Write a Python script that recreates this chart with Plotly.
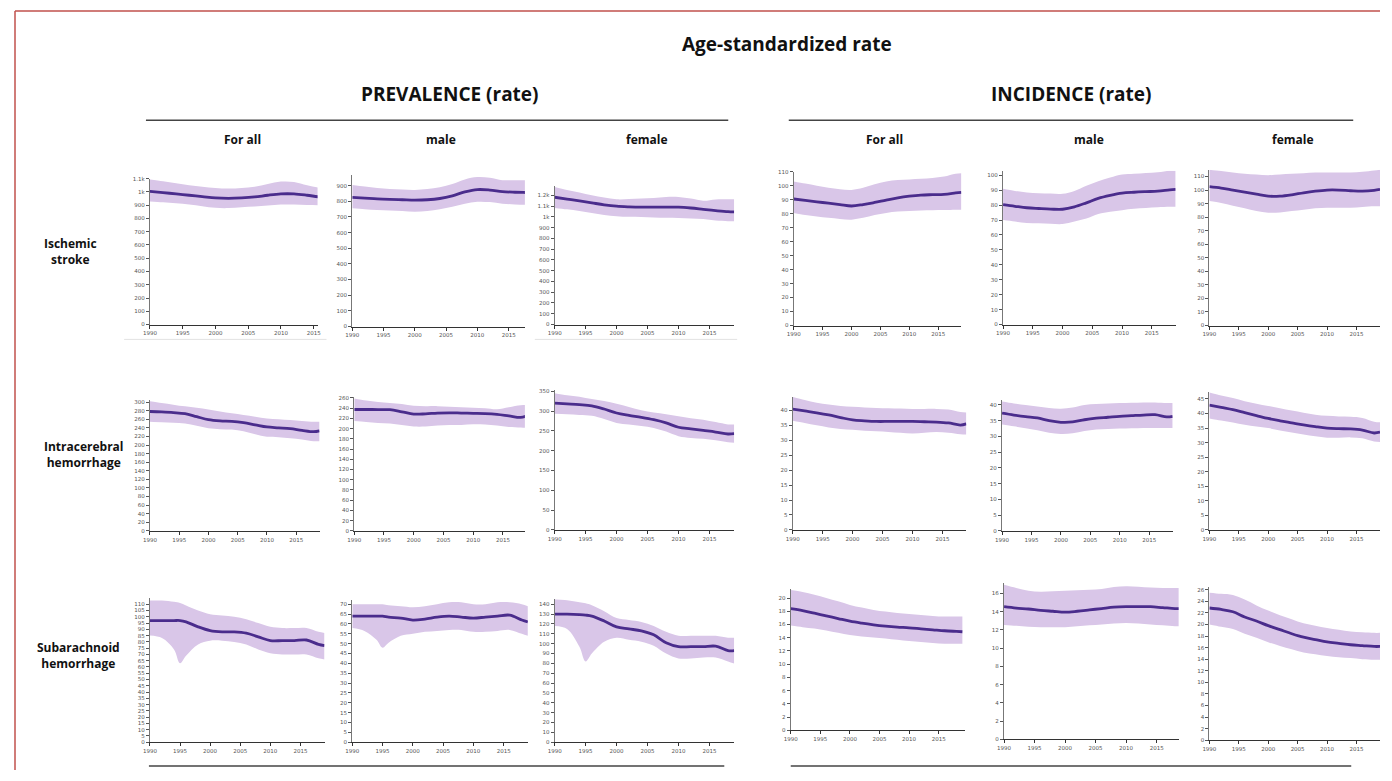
import plotly.graph_objects as go

# page shows the figure after an 8px body margin; size the figure to fit the window
OFF = 8
W, H = 1392 - 2 * OFF, 781 - 2 * OFF


def fx(px):
    return min(1.0, max(0.0, (px - OFF) / W))


def fy(py):
    return min(1.0, max(0.0, 1 - (py - OFF) / H))


years = [1990, 1992, 1994, 1996, 1998, 2000, 2002, 2004, 2006, 2008, 2010, 2012, 2014, 2016, 2018, 2019]
years_sah_prev = [1990, 1992, 1994, 1995, 1996, 1998, 2000, 2002, 2004, 2006, 2008, 2010, 2012, 2014, 2016, 2018, 2019]
year_ticks = [1990, 1995, 2000, 2005, 2010, 2015]

# ---------------- Ischemic stroke ----------------
isch_prev_all = [1005, 995, 985, 975, 965, 955, 952, 955, 962, 975, 985, 985, 975, 962, 958, 955]
isch_prev_all_hi = [1093, 1080, 1065, 1050, 1040, 1030, 1025, 1030, 1040, 1060, 1078, 1075, 1050, 1030, 1020, 1018]
isch_prev_all_lo = [928, 922, 915, 905, 892, 880, 878, 885, 890, 898, 905, 905, 902, 900, 898, 896]

isch_prev_male = [825, 820, 815, 812, 810, 808, 810, 818, 835, 860, 875, 872, 862, 858, 856, 855]
isch_prev_male_hi = [905, 895, 885, 878, 875, 873, 878, 890, 910, 940, 955, 950, 935, 935, 935, 935]
isch_prev_male_lo = [755, 750, 745, 742, 738, 734, 738, 750, 765, 785, 797, 795, 785, 780, 778, 775]

isch_prev_female = [1182, 1165, 1148, 1130, 1112, 1099, 1093, 1090, 1090, 1090, 1090, 1082, 1070, 1058, 1048, 1046]
isch_prev_female_hi = [1277, 1250, 1225, 1200, 1180, 1163, 1165, 1170, 1175, 1185, 1185, 1170, 1150, 1162, 1163, 1163]
isch_prev_female_lo = [1083, 1070, 1055, 1035, 1018, 1006, 1000, 998, 995, 992, 990, 985, 980, 965, 960, 960]

isch_inc_all = [90.5, 89.5, 88.5, 87.5, 86.5, 85.5, 86.5, 88, 89.7, 91.3, 92.5, 93.3, 93.6, 93.8, 94.8, 95.3]
isch_inc_all_hi = [103, 101.5, 100, 98.5, 97.5, 97, 98.5, 101, 103, 104, 104.5, 105, 105.5, 106.5, 108.5, 108.9]
isch_inc_all_lo = [80.4, 79, 78, 77, 76.2, 75.7, 77, 79, 80.5, 81.5, 82, 82.3, 82.5, 82.6, 82.8, 82.8]

isch_inc_male = [80.3, 79.2, 78.2, 77.7, 77.3, 77.2, 78.8, 81.5, 84.5, 86.5, 88, 88.6, 89, 89.3, 90.2, 90.5]
isch_inc_male_hi = [90.9, 89.5, 88.5, 88, 87.7, 87.6, 89.5, 93, 96, 98.5, 100.5, 101, 101.5, 102, 103, 103]
isch_inc_male_lo = [70, 69, 68, 67.8, 67.5, 67.3, 69, 71, 74, 75.5, 76.6, 77.5, 78, 78.5, 78.8, 78.8]

isch_inc_female = [102.5, 101.5, 100, 98.5, 97, 95.5, 95.5, 96.5, 98, 99.2, 100, 100, 99.5, 99.2, 99.8, 100.5]
isch_inc_female_hi = [115, 114, 113, 112, 111.5, 111, 111.5, 112, 112.5, 113, 113, 113, 113, 113.5, 114.5, 115]
isch_inc_female_lo = [91.9, 90.5, 88.5, 86.5, 84.5, 83.3, 83.5, 84.5, 85.5, 86.5, 87, 87, 87, 87.5, 88, 88]

# ---------------- Intracerebral hemorrhage ----------------
ich_prev_all = [278, 277, 275.5, 273, 266, 259, 256, 255, 252, 247, 242, 240, 238, 234, 231, 233]
ich_prev_all_hi = [302, 298, 294, 290, 287, 283, 278, 274, 270, 266, 262, 260, 258, 256, 254, 254]
ich_prev_all_lo = [254, 253, 252, 250, 245, 239, 237, 236, 232, 225, 219, 218, 216, 213, 209, 209]

ich_prev_male = [237.5, 237.5, 237.3, 237, 233, 228.5, 229, 230.5, 231, 230.5, 230, 229.5, 228, 225, 222, 225]
ich_prev_male_hi = [259, 255, 252, 250, 248, 244.6, 244, 244, 243, 242, 240.8, 240, 238, 242, 246, 246]
ich_prev_male_lo = [215, 213, 211, 210, 207, 204, 204, 206, 207, 207, 208.5, 208, 206, 203, 202, 202]

ich_prev_female = [320, 318, 316, 313, 305, 295, 289, 284, 278, 270, 259, 255, 251, 247, 242, 243]
ich_prev_female_hi = [345, 340, 336, 330, 325, 318, 310, 302, 296, 292, 287, 282, 278, 272, 266, 266]
ich_prev_female_lo = [293, 292, 290, 288, 280, 270, 266, 262, 257, 248, 236.5, 232, 230, 226, 221, 220]

ich_inc_all = [40.4, 39.8, 39.2, 38.5, 37.6, 36.8, 36.5, 36.3, 36.3, 36.3, 36.3, 36.2, 36.1, 35.8, 35.1, 35.5]
ich_inc_all_hi = [44.5, 43.5, 42.6, 42, 41.5, 41.2, 41, 40.8, 40.7, 40.6, 40.5, 40.5, 40.5, 40.3, 39.5, 39.3]
ich_inc_all_lo = [36.5, 35.8, 35, 34.3, 33.8, 33.5, 33.2, 33, 32.8, 32.5, 32.3, 32.5, 32.8, 32.5, 32, 31.9]

ich_inc_male = [37.4, 36.8, 36.3, 35.9, 35, 34.5, 34.6, 35.3, 35.8, 36.1, 36.4, 36.6, 36.8, 36.9, 36.2, 36.4]
ich_inc_male_hi = [41.1, 40.5, 40, 39.5, 39, 38.8, 39.2, 40, 40.3, 40.5, 40.6, 40.7, 40.8, 40.8, 40.6, 40.6]
ich_inc_male_lo = [33.8, 33.2, 32.6, 32, 31.2, 30.8, 31, 31.7, 32.2, 32.4, 32.5, 32.6, 32.7, 32.7, 32.7, 32.7]

ich_inc_female = [42.9, 42.1, 41.3, 40.3, 39.3, 38.3, 37.5, 36.8, 36.1, 35.5, 35, 34.8, 34.7, 34.3, 33.3, 33.6]
ich_inc_female_hi = [47.2, 46.2, 45.3, 44.2, 43.4, 42.6, 41.8, 41, 40.3, 39.6, 39.2, 39, 38.9, 38.5, 37.2, 37]
ich_inc_female_lo = [38.3, 37.6, 36.9, 36.1, 35.5, 35, 34.2, 33.5, 32.8, 32.2, 31.7, 31.7, 31.8, 31.5, 30.4, 30.2]

# ---------------- Subarachnoid hemorrhage (prevalence on years_sah_prev) ----------------
sah_prev_all = [97, 97, 97, 97, 96, 92, 89, 88, 88, 87, 84, 81, 81, 81, 81.5, 78, 77]
sah_prev_all_hi = [113, 113, 112, 111, 109, 105, 102, 101, 100, 98, 95, 92, 91, 91, 91, 88, 87]
sah_prev_all_lo = [85, 83, 74, 63, 69, 78, 81, 81, 80, 78, 74, 71, 70, 70, 70, 67, 66]

sah_prev_male = [64, 64, 64, 64, 63.5, 63, 62, 62.5, 63.5, 64, 63.5, 63, 63.5, 64, 64.5, 62, 61]
sah_prev_male_hi = [70, 70, 70, 70, 69.5, 69, 68.5, 69, 70, 71, 71, 70, 70, 71, 71, 70, 69]
sah_prev_male_lo = [58, 56.5, 52, 48, 50.5, 54, 55, 56, 56.5, 57, 57, 56, 56, 56.5, 57, 55, 54]

sah_prev_female = [130, 130, 129.5, 129, 128, 123, 117, 115, 113, 109, 101, 97, 97, 97, 97.5, 93, 93]
sah_prev_female_hi = [145, 144, 142, 141, 139, 133, 126, 124, 122, 118, 112, 108, 108, 108, 108, 106, 106]
sah_prev_female_lo = [118, 115, 97, 82, 90, 102, 106, 104, 102, 98, 90, 85, 85, 86, 86, 82, 80]

sah_inc_all = [18.4, 18.1, 17.7, 17.3, 16.9, 16.5, 16.2, 15.95, 15.75, 15.6, 15.5, 15.35, 15.2, 15.05, 14.95, 14.9]
sah_inc_all_hi = [21.2, 20.9, 20.5, 20.0, 19.5, 18.95, 18.55, 18.2, 17.95, 17.75, 17.6, 17.45, 17.3, 17.2, 17.2, 17.2]
sah_inc_all_lo = [15.85, 15.6, 15.4, 15.1, 14.75, 14.4, 14.2, 14.05, 13.9, 13.7, 13.5, 13.35, 13.2, 13.1, 13.1, 13.1]

sah_inc_male = [14.55, 14.4, 14.3, 14.15, 14.05, 13.95, 14.05, 14.2, 14.35, 14.5, 14.55, 14.55, 14.55, 14.45, 14.35, 14.35]
sah_inc_male_hi = [16.95, 16.6, 16.3, 16.2, 16.25, 16.3, 16.35, 16.4, 16.5, 16.7, 16.8, 16.75, 16.65, 16.6, 16.6, 16.6]
sah_inc_male_lo = [12.55, 12.45, 12.35, 12.3, 12.3, 12.3, 12.4, 12.5, 12.6, 12.7, 12.75, 12.7, 12.6, 12.5, 12.4, 12.4]

sah_inc_female = [22.85, 22.6, 22.2, 21.3, 20.6, 19.8, 19.1, 18.4, 17.8, 17.4, 17.0, 16.75, 16.5, 16.35, 16.2, 16.2]
sah_inc_female_hi = [25.5, 25.3, 25.1, 24.3, 23.3, 22.4, 21.6, 20.9, 20.2, 19.8, 19.4, 19.1, 18.8, 18.65, 18.55, 18.55]
sah_inc_female_lo = [20, 19.6, 19.2, 18.4, 17.7, 16.95, 16.3, 15.7, 15.15, 14.85, 14.55, 14.35, 14.2, 14.0, 13.9, 13.9]

# tick labels
ticks_isch_prev_all = [0, 100, 200, 300, 400, 500, 600, 700, 800, 900, 1000, 1100]
text_isch_prev_all = ["0", "100", "200", "300", "400", "500", "600", "700", "800", "900", "1k", "1.1k"]
ticks_isch_prev_male = [0, 100, 200, 300, 400, 500, 600, 700, 800, 900]
ticks_isch_prev_female = [0, 100, 200, 300, 400, 500, 600, 700, 800, 900, 1000, 1100, 1200]
text_isch_prev_female = ["0", "100", "200", "300", "400", "500", "600", "700", "800", "900", "1k", "1.1k", "1.2k"]
ticks_by10_100 = [0, 10, 20, 30, 40, 50, 60, 70, 80, 90, 100]
ticks_by10_110 = [0, 10, 20, 30, 40, 50, 60, 70, 80, 90, 100, 110]
ticks_by20_300 = list(range(0, 301, 20))
ticks_by20_260 = list(range(0, 261, 20))
ticks_by50_350 = list(range(0, 351, 50))
ticks_by5_40 = list(range(0, 41, 5))
ticks_by5_45 = list(range(0, 46, 5))
ticks_by5_110 = list(range(0, 111, 5))
ticks_by5_70 = list(range(0, 71, 5))
ticks_by10_140 = list(range(0, 141, 10))
ticks_by2_20 = list(range(0, 21, 2))
ticks_by2_16 = list(range(0, 17, 2))
ticks_by2_26 = list(range(0, 27, 2))

LINE = "#4a2c8c"
BAND = "#d9c6e8"

# panel geometry in window pixels: (years, mean, lo, hi, left, right, zero line, top, last year shown, ymax, ticks, ticktext)
panels = [
    (years, isch_prev_all, isch_prev_all_lo, isch_prev_all_hi, 144, 313, 324, 177, 2015.6, 1100, ticks_isch_prev_all, text_isch_prev_all),
    (years, isch_prev_male, isch_prev_male_lo, isch_prev_male_hi, 348, 522, 326, 173, 2017.6, 970, ticks_isch_prev_male, None),
    (years, isch_prev_female, isch_prev_female_lo, isch_prev_female_hi, 552, 733, 324, 184, 2019, 1290, ticks_isch_prev_female, text_isch_prev_female),
    (years, isch_inc_all, isch_inc_all_lo, isch_inc_all_hi, 793, 962, 325, 170, 2019, 110, ticks_by10_110, None),
    (years, isch_inc_male, isch_inc_male_lo, isch_inc_male_hi, 1004, 1178, 324, 169, 2019, 103, ticks_by10_100, None),
    (years, isch_inc_female, isch_inc_female_lo, isch_inc_female_hi, 1212, 1384, 325, 168, 2019, 115, ticks_by10_110, None),
    (years, ich_prev_all, ich_prev_all_lo, ich_prev_all_hi, 144, 315, 532, 400, 2019, 305, ticks_by20_300, None),
    (years, ich_prev_male, ich_prev_male_lo, ich_prev_male_hi, 350, 522, 532, 397, 2018.7, 262, ticks_by20_260, None),
    (years, ich_prev_female, ich_prev_female_lo, ich_prev_female_hi, 552, 733, 531, 390, 2019, 353, ticks_by50_350, None),
    (years, ich_inc_all, ich_inc_all_lo, ich_inc_all_hi, 792, 967, 531, 397, 2019, 44.5, ticks_by5_40, None),
    (years, ich_inc_male, ich_inc_male_lo, ich_inc_male_hi, 1003, 1175, 532, 400, 2019, 41.6, ticks_by5_40, None),
    (years, ich_inc_female, ich_inc_female_lo, ich_inc_female_hi, 1212, 1384, 531, 392, 2019, 47.4, ticks_by5_45, None),
    (years_sah_prev, sah_prev_all, sah_prev_all_lo, sah_prev_all_hi, 144, 320, 745, 600, 2019, 114.7, ticks_by5_110, None),
    (years_sah_prev, sah_prev_male, sah_prev_male_lo, sah_prev_male_hi, 348, 525, 745, 602, 2019, 72, ticks_by5_70, None),
    (years_sah_prev, sah_prev_female, sah_prev_female_lo, sah_prev_female_hi, 552, 733, 745, 601, 2019, 145, ticks_by10_140, None),
    (years, sah_inc_all, sah_inc_all_lo, sah_inc_all_hi, 790, 966, 733, 591, 2019.5, 21.3, ticks_by2_20, None),
    (years, sah_inc_male, sah_inc_male_lo, sah_inc_male_hi, 1005, 1181, 742, 585, 2018.6, 17.1, ticks_by2_16, None),
    (years, sah_inc_female, sah_inc_female_lo, sah_inc_female_hi, 1212, 1384, 743, 589, 2019, 26.4, ticks_by2_26, None),
]

fig = go.Figure()
layout = {}
tickfont = dict(family="DejaVu Sans", size=5.5, color="#555555")

for i, (yrs, mean, lo, hi, xl, xr, yz, yt, xmax, ymax, tv, tt) in enumerate(panels):
    n = i + 1
    xa = "x" if n == 1 else f"x{n}"
    ya = "y" if n == 1 else f"y{n}"
    fig.add_trace(go.Scatter(x=yrs, y=hi, mode="lines", line=dict(width=0, shape="spline"),
                             xaxis=xa, yaxis=ya, showlegend=False, hoverinfo="skip"))
    fig.add_trace(go.Scatter(x=yrs, y=lo, mode="lines", line=dict(width=0, shape="spline"),
                             fill="tonexty", fillcolor=BAND,
                             xaxis=xa, yaxis=ya, showlegend=False, hoverinfo="skip"))
    fig.add_trace(go.Scatter(x=yrs, y=mean, mode="lines", line=dict(color=LINE, width=2.8, shape="spline"),
                             xaxis=xa, yaxis=ya, showlegend=False))
    xkey = "xaxis" if n == 1 else f"xaxis{n}"
    ykey = "yaxis" if n == 1 else f"yaxis{n}"
    layout[xkey] = dict(
        domain=[fx(xl), fx(xr)], range=[1990, xmax], anchor=ya,
        tickvals=year_ticks, ticks="outside", ticklen=3, tickcolor="#333333",
        showline=True, linecolor="#333333", linewidth=1.2, showgrid=False, zeroline=False,
        tickfont=tickfont, fixedrange=True,
    )
    ydict = dict(
        domain=[fy(yz), fy(yt)], range=[0, ymax], anchor=xa,
        tickvals=tv, ticks="outside", ticklen=3, tickcolor="#555555",
        showline=True, linecolor="#777777", linewidth=1.2, showgrid=False, zeroline=False,
        tickfont=tickfont, fixedrange=True,
    )
    if tt is not None:
        ydict["ticktext"] = tt
    layout[ykey] = ydict

HEAD = "Open Sans"
annotations = [
    dict(text="<b>Age-standardized rate</b>", x=fx(786), y=fy(41), font=dict(family=HEAD, size=19, color="#111")),
    dict(text="<b>PREVALENCE (rate)</b>", x=fx(447), y=fy(92), font=dict(family=HEAD, size=19, color="#111")),
    dict(text="<b>INCIDENCE (rate)</b>", x=fx(1073), y=fy(92), font=dict(family=HEAD, size=19, color="#111")),
]
col_heads = [("For all", 237), ("male", 437), ("female", 645), ("For all", 885), ("male", 1091), ("female", 1296)]
for t, x in col_heads:
    annotations.append(dict(text=f"<b>{t}</b>", x=fx(x), y=fy(138), font=dict(family=HEAD, size=12, color="#111")))
row_heads = [("Ischemic<br>stroke", 64, 250), ("Intracerebral<br>hemorrhage", 78, 455), ("Subarachnoid<br>hemorrhage", 72, 658)]
for t, x, y in row_heads:
    annotations.append(dict(text=f"<b>{t}</b>", x=fx(x), y=fy(y), align="center",
                            font=dict(family=HEAD, size=12, color="#111")))
for a in annotations:
    a.update(xref="paper", yref="paper", showarrow=False, xanchor="center", yanchor="middle")

shapes = []
for (x0, x1, y) in [(140, 727, 118), (788, 1357, 118), (143, 723, 769), (790, 1355, 769)]:
    shapes.append(dict(type="line", xref="paper", yref="paper", x0=fx(x0), x1=fx(x1), y0=fy(y), y1=fy(y),
                       line=dict(color="#444444", width=1.5)))
# faint frame lines left from the pasted screenshots
for (x0, x1, y) in [(118, 322, 339), (532, 736, 339)]:
    shapes.append(dict(type="line", xref="paper", yref="paper", x0=fx(x0), x1=fx(x1), y0=fy(y), y1=fy(y),
                       line=dict(color="#e2e2e2", width=1)))
# outer frame
shapes.append(dict(type="line", xref="paper", yref="paper", x0=0, x1=1, y0=1, y1=1,
                   line=dict(color="#c0504d", width=1.5)))
shapes.append(dict(type="line", xref="paper", yref="paper", x0=0, x1=0, y0=1, y1=0,
                   line=dict(color="#c0504d", width=1.5)))

fig.update_layout(
    width=W, height=H, margin=dict(l=0, r=0, t=0, b=0),
    paper_bgcolor="white", plot_bgcolor="white",
    annotations=annotations, shapes=shapes, **layout,
)

fig.write_html("out.html")
